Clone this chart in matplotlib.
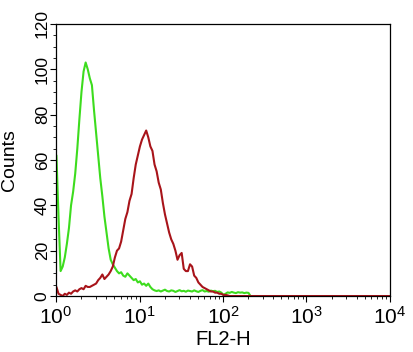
import numpy as np
import matplotlib
matplotlib.use("Agg")
import matplotlib.pyplot as plt
from matplotlib.ticker import MultipleLocator, LogLocator, NullFormatter

plt.rcParams['font.family'] = ['Liberation Sans', 'DejaVu Sans']

# channel positions in decades (log10 of FL2-H), 0.025 decade per channel
step = 0.025
start = -0.02

green_counts = [
    0, 62, 35, 11, 13, 17, 23, 30, 40, 46,
    54, 65, 78, 90, 99, 103, 100, 96, 93, 82,
    72, 62, 52, 44, 35, 28, 21, 16, 14, 12.5,
    11, 10, 10.5, 9, 8.5, 10, 9, 8, 7, 7.5,
    6, 6.5, 5, 5.5, 4.5, 5.5, 4, 3, 2.5, 2.2,
    2.5, 2, 2.4, 2.8, 2.2, 2, 2.5, 2.3, 1.8, 2.2,
    2.6, 2.1, 2.3, 1.9, 2.4, 2.2, 2, 2.5, 2.1, 1.8,
    2.3, 2.6, 2, 2.2, 1.9, 2.4, 2.1, 2.3, 1.8, 2,
    1.5, 0.5, 1, 1.6, 1.4, 1.8, 1.5, 1.3, 1.7, 1.5,
    1.6, 1.3, 1.5, 1.4, 0,
]

red_counts = [
    0, 4, 1, 0.5, 0, 1, 0.5, 1.5, 1, 2,
    2.5, 2, 3, 3.5, 3, 4.5, 4, 4, 4.5, 5,
    5.5, 7, 8, 9.5, 7.5, 8.5, 9.5, 11, 13, 17,
    20, 21, 24, 29, 34, 37, 42, 45, 52, 58,
    62, 66, 69, 71, 73, 70, 66, 64, 58, 55,
    50, 47, 41, 36, 32, 28, 25, 23, 20, 16,
    18, 19, 12, 11, 11, 14, 13, 9, 8, 6,
    5, 4, 3.5, 3, 2.5, 2, 2, 1.5, 1.5, 1,
    1, 0.5, 0.5, 0.3, 0,
]
red_end = 4.0  # red baseline runs to 10^4

x_ticks = [1, 10, 100, 1000, 10000]
y_ticks = [0, 20, 40, 60, 80, 100, 120]

green_x = 10 ** (start + step * np.arange(len(green_counts)))
red_x = 10 ** np.append(start + step * np.arange(len(red_counts)), red_end)
red_y = red_counts + [0]

fig = plt.figure(figsize=(4.14, 3.52), dpi=100)
ax = fig.add_axes([0.1353, 0.159, 0.8067, 0.773])

ax.plot(green_x, green_counts, color='#3ddc1e', linewidth=1.5)
ax.plot(red_x, red_y, color='#a8141a', linewidth=1.5)

ax.set_xscale('log')
ax.set_xlim(1, 10000)
ax.set_ylim(0, 120)
ax.set_xticks(x_ticks)
ax.xaxis.set_minor_locator(LogLocator(base=10, subs=np.arange(2, 10)))
ax.xaxis.set_minor_formatter(NullFormatter())
ax.set_yticks(y_ticks)
ax.yaxis.set_minor_locator(MultipleLocator(5))

ax.tick_params(axis='both', which='major', direction='out', length=4, width=0.8, color='black')
ax.tick_params(axis='both', which='minor', direction='out', length=2.5, width=0.6)
ax.tick_params(axis='x', which='major', labelsize=15, pad=3)
ax.tick_params(axis='y', which='major', labelsize=12.5, pad=0.5)
for lab in ax.get_yticklabels():
    lab.set_rotation(90)
    lab.set_va('center')

for s in ax.spines.values():
    s.set_linewidth(0.9)

ax.set_xlabel('FL2-H', fontsize=14.5, labelpad=2)
ax.set_ylabel('Counts', fontsize=14, labelpad=12)

fig.savefig('out.png', dpi=100)
